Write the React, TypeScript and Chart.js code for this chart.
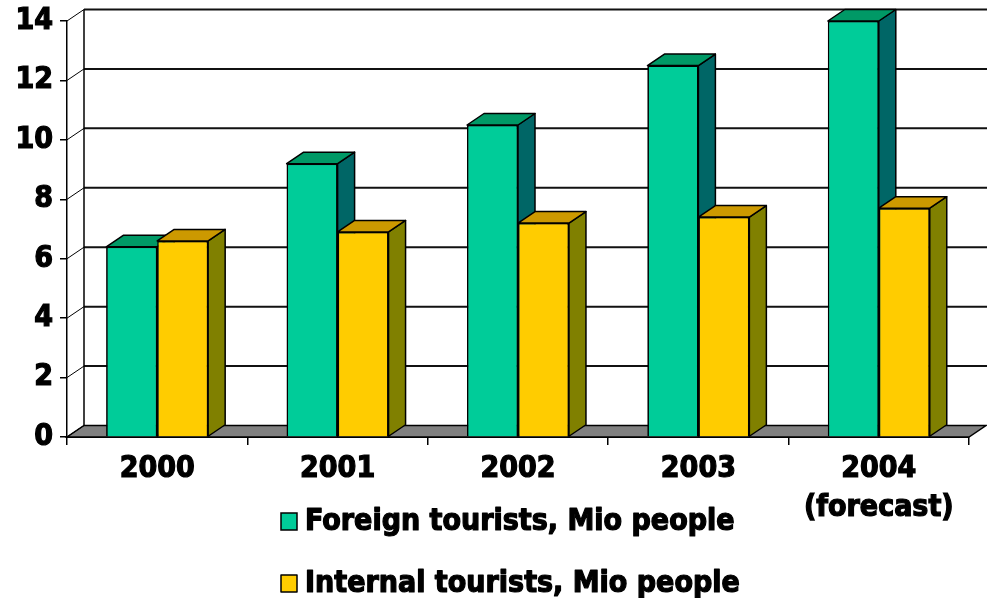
import React, { useEffect, useRef } from 'react';
import { Chart, registerables } from 'chart.js';

Chart.register(...registerables);

const categories: string[][] = [['2000'], ['2001'], ['2002'], ['2003'], ['2004', '(forecast)']];
const foreignTourists = [6.4, 9.2, 10.5, 12.5, 14.0];
const internalTourists = [6.6, 6.9, 7.2, 7.4, 7.7];
const seriesLabels = ['Foreign tourists, Mio people', 'Internal tourists, Mio people'];
const yMin = 0;
const yMax = 14;
const yStep = 2;

const FONT = "'DejaVu Sans Condensed', 'DejaVu Sans', sans-serif";
const DX = 17;
const DY = -11.5;
const faceColors = [
  { front: '#00CC99', top: '#009966', side: '#006666' },
  { front: '#FFCC00', top: '#CC9900', side: '#808000' },
];

const threeD = {
  id: 'threeD',
  beforeDatasetsDraw(chart: any) {
    const { ctx, chartArea: a, scales } = chart;
    const y = scales.y;
    const y0 = y.getPixelForValue(0);
    const W = chart.width;
    ctx.save();
    // floor
    ctx.beginPath();
    ctx.moveTo(a.left, y0);
    ctx.lineTo(a.right, y0);
    ctx.lineTo(a.right + DX, y0 + DY);
    ctx.lineTo(a.left + DX, y0 + DY);
    ctx.closePath();
    ctx.fillStyle = '#808080';
    ctx.fill();
    ctx.strokeStyle = '#000';
    ctx.lineWidth = 1.5;
    ctx.stroke();
    // back wall gridlines and left wall diagonals
    y.ticks.forEach((t: any) => {
      const py = y.getPixelForValue(t.value);
      if (t.value !== 0) {
        ctx.beginPath();
        ctx.moveTo(a.left + DX, py + DY);
        ctx.lineTo(W, py + DY);
        ctx.lineWidth = 2;
        ctx.strokeStyle = '#111';
        ctx.stroke();
      }
      ctx.beginPath();
      ctx.moveTo(a.left, py);
      ctx.lineTo(a.left + DX, py + DY);
      ctx.lineWidth = 1;
      ctx.strokeStyle = '#000';
      ctx.stroke();
    });
    // back wall left edge
    ctx.beginPath();
    ctx.moveTo(a.left + DX, y.getPixelForValue(yMax) + DY);
    ctx.lineTo(a.left + DX, y0 + DY);
    ctx.lineWidth = 1.5;
    ctx.strokeStyle = '#000';
    ctx.stroke();
    ctx.restore();
  },
  afterDatasetsDraw(chart: any) {
    const { ctx } = chart;
    const n = chart.data.labels.length;
    ctx.save();
    for (let i = 0; i < n; i++) {
      chart.data.datasets.forEach((ds: any, d: number) => {
        const meta = chart.getDatasetMeta(d);
        const bar = meta.data[i];
        if (!bar) return;
        const { x, y: top, base, width } = bar.getProps(['x', 'y', 'base', 'width'], true);
        const l = x - width / 2;
        const r = x + width / 2;
        bar.draw(ctx);
        ctx.lineWidth = 1.5;
        ctx.strokeStyle = '#000';
        ctx.lineJoin = 'round';
        // side face
        ctx.beginPath();
        ctx.moveTo(r, top);
        ctx.lineTo(r + DX, top + DY);
        ctx.lineTo(r + DX, base + DY);
        ctx.lineTo(r, base);
        ctx.closePath();
        ctx.fillStyle = faceColors[d].side;
        ctx.fill();
        ctx.stroke();
        // top face
        ctx.beginPath();
        ctx.moveTo(l, top);
        ctx.lineTo(l + DX, top + DY);
        ctx.lineTo(r + DX, top + DY);
        ctx.lineTo(r, top);
        ctx.closePath();
        ctx.fillStyle = faceColors[d].top;
        ctx.fill();
        ctx.stroke();
      });
    }
    ctx.restore();
  },
  afterDraw(chart: any) {
    const { ctx } = chart;
    ctx.save();
    ctx.font = `bold 30px ${FONT}`;
    ctx.textAlign = 'left';
    ctx.textBaseline = 'alphabetic';
    const rows = [530, 592];
    chart.data.datasets.forEach((ds: any, d: number) => {
      const base = rows[d];
      ctx.fillStyle = ds.backgroundColor;
      ctx.fillRect(281, base - 17, 16, 17);
      ctx.strokeStyle = '#000';
      ctx.lineWidth = 1.5;
      ctx.strokeRect(281, base - 17, 16, 17);
      ctx.fillStyle = '#000';
      ctx.lineWidth = 1.2;
      ctx.lineJoin = 'round';
      ctx.strokeText(ds.label, 305, base);
      ctx.fillText(ds.label, 305, base);
    });
    ctx.restore();
  },
};

export default function App() {
  const ref = useRef<HTMLCanvasElement | null>(null);
  useEffect(() => {
    if (!ref.current) return;
    const chart = new Chart(ref.current, {
      type: 'bar',
      data: {
        labels: categories,
        datasets: [
          {
            label: seriesLabels[0],
            data: foreignTourists,
            backgroundColor: faceColors[0].front,
            borderColor: '#000',
            borderWidth: 1.5,
          },
          {
            label: seriesLabels[1],
            data: internalTourists,
            backgroundColor: faceColors[1].front,
            borderColor: '#000',
            borderWidth: 1.5,
          },
        ],
      },
      options: {
        responsive: false,
        animation: false,
        categoryPercentage: 0.565,
        barPercentage: 1,
        layout: { padding: { top: 21, right: 18, left: 0, bottom: 0 } },
        plugins: {
          legend: { display: false },
          tooltip: { enabled: false },
        },
        scales: {
          x: {
            afterFit(scale: any) {
              scale.height = 161;
            },
            grid: {
              display: true,
              drawOnChartArea: false,
              drawTicks: true,
              tickLength: 8,
              color: '#000',
              lineWidth: 1.5,
              offset: true,
            },
            border: { display: true, color: '#000', width: 2 },
            ticks: {
              color: '#000',
              font: { family: FONT, size: 30, weight: 'bold', lineHeight: 1.3 },
              padding: 5,
              maxRotation: 0,
              autoSkip: false,
              textStrokeColor: '#000',
              textStrokeWidth: 1.2,
            },
          },
          y: {
            min: yMin,
            max: yMax,
            afterFit(scale: any) {
              scale.width = 67;
            },
            grid: {
              display: true,
              drawOnChartArea: false,
              drawTicks: true,
              tickLength: 7,
              color: '#000',
              lineWidth: 1.5,
            },
            border: { display: true, color: '#000', width: 1.5 },
            ticks: {
              stepSize: yStep,
              color: '#000',
              font: { family: FONT, size: 30, weight: 'bold', lineHeight: 0.8 },
              padding: 7,
              textStrokeColor: '#000',
              textStrokeWidth: 1.2,
            },
          },
        },
      },
      plugins: [threeD],
    } as any);
    return () => chart.destroy();
  }, []);
  return (
    <div style={{ position: 'fixed', left: 0, top: 0, width: 987, height: 598, background: '#fff' }}>
      <canvas ref={ref} width={987} height={598} />
    </div>
  );
}
